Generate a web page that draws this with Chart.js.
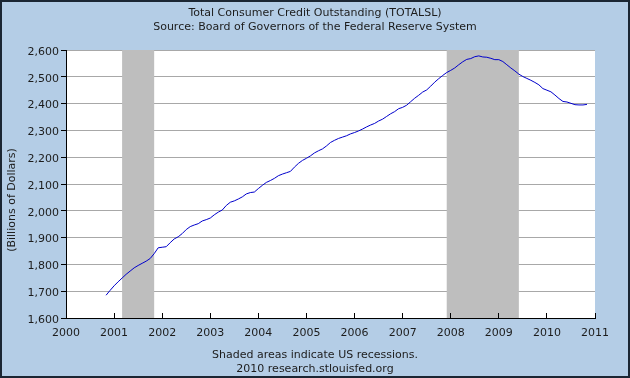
<!DOCTYPE html>
<html>
<head>
<meta charset="utf-8">
<script src="https://cdn.jsdelivr.net/npm/chart.js@4.4.0/dist/chart.umd.min.js"></script>
<style>
  html, body { margin: 0; padding: 0; background: #B4CDE6; }
  #wrap { width: 630px; height: 378px; position: relative; }
</style>
</head>
<body>
<div id="wrap"><canvas id="c" width="630" height="378"></canvas></div>
<script>
// ---- Data (monthly, Billions of Dollars) ----
const months = [
  '2000-11','2000-12',
  '2001-01','2001-02','2001-03','2001-04','2001-05','2001-06','2001-07','2001-08','2001-09','2001-10','2001-11','2001-12',
  '2002-01','2002-02','2002-03','2002-04','2002-05','2002-06','2002-07','2002-08','2002-09','2002-10','2002-11','2002-12',
  '2003-01','2003-02','2003-03','2003-04','2003-05','2003-06','2003-07','2003-08','2003-09','2003-10','2003-11','2003-12',
  '2004-01','2004-02','2004-03','2004-04','2004-05','2004-06','2004-07','2004-08','2004-09','2004-10','2004-11','2004-12',
  '2005-01','2005-02','2005-03','2005-04','2005-05','2005-06','2005-07','2005-08','2005-09','2005-10','2005-11','2005-12',
  '2006-01','2006-02','2006-03','2006-04','2006-05','2006-06','2006-07','2006-08','2006-09','2006-10','2006-11','2006-12',
  '2007-01','2007-02','2007-03','2007-04','2007-05','2007-06','2007-07','2007-08','2007-09','2007-10','2007-11','2007-12',
  '2008-01','2008-02','2008-03','2008-04','2008-05','2008-06','2008-07','2008-08','2008-09','2008-10','2008-11','2008-12',
  '2009-01','2009-02','2009-03','2009-04','2009-05','2009-06','2009-07','2009-08','2009-09','2009-10','2009-11','2009-12',
  '2010-01','2010-02','2010-03','2010-04','2010-05','2010-06','2010-07','2010-08','2010-09','2010-10','2010-11'
];
const totalsl = [
  1685, 1703,
  1720, 1735, 1749, 1763, 1775, 1787, 1796, 1804, 1812, 1822, 1840, 1862,
  1864, 1866, 1881, 1895, 1903, 1915, 1930, 1941, 1947, 1952, 1962, 1967,
  1973, 1985, 1995, 2003, 2020, 2032, 2037, 2044, 2052, 2063, 2068, 2070,
  2083, 2095, 2106, 2113, 2121, 2131, 2137, 2142, 2147, 2163, 2177, 2188,
  2196, 2205, 2216, 2224, 2231, 2242, 2255, 2263, 2270, 2275, 2280, 2287,
  2292, 2298, 2305, 2313, 2320, 2326, 2335, 2342, 2352, 2362, 2370, 2381,
  2386, 2394, 2407, 2420, 2431, 2443, 2451, 2465, 2480, 2493, 2505, 2516,
  2524, 2533, 2545, 2556, 2565, 2568, 2575, 2578, 2574, 2573, 2569, 2564,
  2564, 2557, 2545, 2533, 2522, 2510, 2501, 2494, 2487, 2479, 2470, 2456,
  2450, 2444, 2432, 2419, 2408, 2406, 2401, 2396, 2395, 2395, 2397
];
const recessionStart = ['2001-03', '2007-12'];
const recessionEnd   = ['2001-11', '2009-06'];
const xTickYears = [2000, 2001, 2002, 2003, 2004, 2005, 2006, 2007, 2008, 2009, 2010, 2011];
const yTickValues = [1600, 1700, 1800, 1900, 2000, 2100, 2200, 2300, 2400, 2500, 2600];
const titleLines = ['Total Consumer Credit Outstanding (TOTALSL)', 'Source: Board of Governors of the Federal Reserve System'];
const footerLines = ['Shaded areas indicate US recessions.', '2010 research.stlouisfed.org'];
const yAxisTitle = '(Billions of Dollars)';

function toYear(s) {
  const [y, m] = s.split('-').map(Number);
  return y + (m - 1) / 12;
}

const points = months.map((m, i) => ({ x: toYear(m), y: totalsl[i] }));

const FONT = 'DejaVu Sans';
const TEXT = '#1c1c1c';

const framePlugin = {
  id: 'frame',
  beforeDraw(chart) {
    const { ctx, chartArea: a, width, height } = chart;
    ctx.save();
    ctx.fillStyle = '#B4CDE6';
    ctx.fillRect(0, 0, width, height);
    ctx.fillStyle = '#ffffff';
    ctx.fillRect(a.left, a.top, a.right - a.left, a.bottom - a.top);
    ctx.restore();
  },
  beforeDatasetsDraw(chart) {
    const { ctx, chartArea: a, scales: { x } } = chart;
    ctx.save();
    ctx.fillStyle = '#BEBEBE';
    recessionStart.forEach((s, i) => {
      const x0 = x.getPixelForValue(toYear(s));
      const x1 = x.getPixelForValue(toYear(recessionEnd[i]));
      ctx.fillRect(x0, a.top, x1 - x0, a.bottom - a.top);
    });
    ctx.restore();
  },
  afterDraw(chart) {
    const { ctx, width, height } = chart;
    ctx.save();
    ctx.fillStyle = TEXT;
    ctx.font = '11px "' + FONT + '"';
    ctx.textAlign = 'center';
    ctx.textBaseline = 'middle';
    ctx.fillText(titleLines[0], width / 2, 13);
    ctx.fillText(titleLines[1], width / 2, 27);
    ctx.fillText(footerLines[0], width / 2, 355);
    ctx.fillText(footerLines[1], width / 2, 369);
    ctx.translate(12, 200);
    ctx.rotate(-Math.PI / 2);
    ctx.fillText(yAxisTitle, 0, 0);
    ctx.restore();
    ctx.save();
    ctx.strokeStyle = '#1b2633';
    ctx.lineWidth = 2;
    ctx.strokeRect(1, 1, width - 2, height - 2);
    ctx.restore();
  }
};

new Chart(document.getElementById('c'), {
  type: 'line',
  data: {
    datasets: [{
      data: points,
      borderColor: '#0000CC',
      borderWidth: 1,
      pointRadius: 0,
      tension: 0,
      fill: false
    }]
  },
  options: {
    responsive: false,
    animation: false,
    devicePixelRatio: 1,
    layout: { padding: { top: 50, right: 35, bottom: 0, left: 0 } },
    plugins: { legend: { display: false }, tooltip: { enabled: false }, title: { display: false } },
    scales: {
      x: {
        type: 'linear',
        min: 2000, max: 2011,
        afterFit(s) { s.height = 60; },
        afterBuildTicks(s) { s.ticks = xTickYears.map(v => ({ value: v })); },
        ticks: {
          color: TEXT, font: { family: FONT, size: 11 }, padding: 14,
          maxRotation: 0, autoSkip: false,
          callback: v => String(v)
        },
        grid: { drawOnChartArea: false, drawTicks: true, tickLength: -5, color: '#000', z: 1 },
        border: { display: true, color: '#000', width: 1, z: 1 }
      },
      y: {
        min: 1600, max: 2600,
        afterFit(s) { s.width = 66; },
        afterBuildTicks(s) { s.ticks = yTickValues.map(v => ({ value: v })); },
        ticks: {
          color: TEXT, font: { family: FONT, size: 11 }, padding: 2, labelOffset: 2,
          callback: v => v.toLocaleString('en-US')
        },
        grid: { color: '#A8A8A8', tickColor: '#000', tickLength: 5, drawTicks: true },
        border: { display: true, color: '#000', width: 1 }
      }
    }
  },
  plugins: [framePlugin]
});
</script>
</body>
</html>
